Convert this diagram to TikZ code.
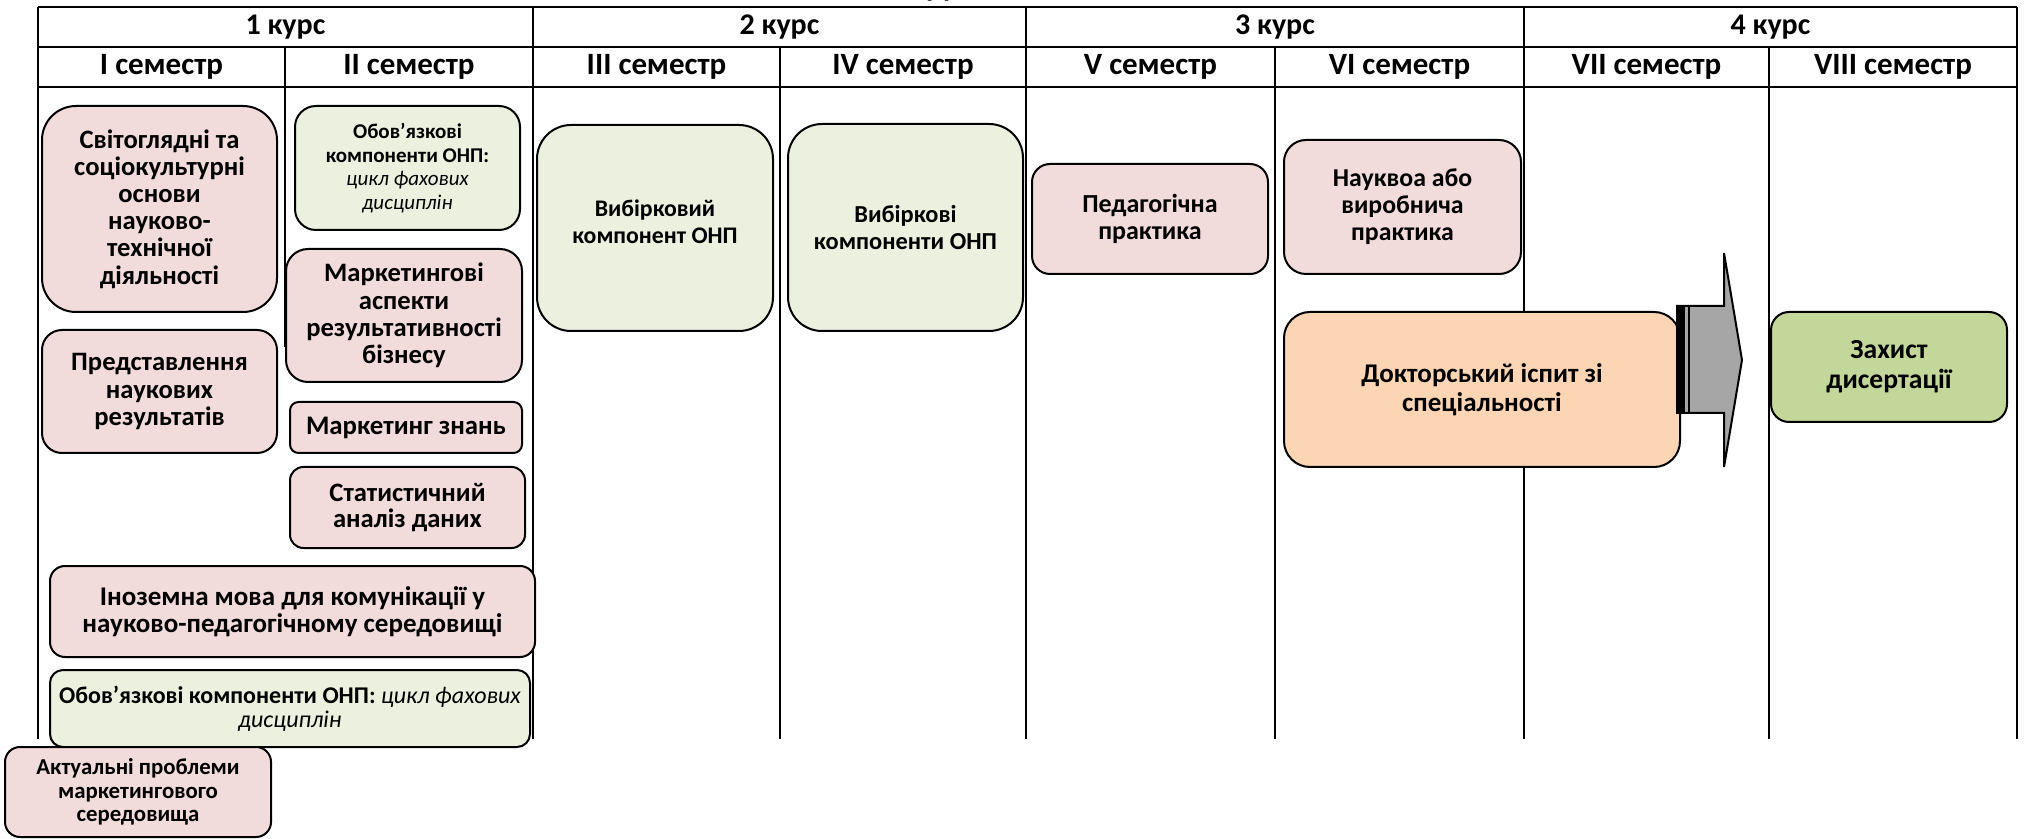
\documentclass[tikz,border=0pt]{standalone}
\usepackage{fontspec}
\setmainfont{Carlito}
\definecolor{pinkc}{HTML}{F2DCDB}
\definecolor{greenc}{HTML}{EBF1DE}
\definecolor{orangec}{HTML}{FCD5B4}
\definecolor{greenb}{HTML}{C4D79B}
\definecolor{arrowc}{HTML}{A6A6A6}
\begin{document}
\begin{tikzpicture}[x=0.5pt,y=-0.5pt,
  gridline/.style={line width=1.2pt},
  hdr/.style={font=\fontsize{15}{18}\selectfont\bfseries, inner sep=0pt},
  sem/.style={font=\fontsize{15.5}{18}\selectfont\bfseries, inner sep=0pt},
  box/.style={draw, line width=1pt, align=center, inner sep=0pt},
  pinkbox/.style={box, fill=pinkc},
  greenbox/.style={box, fill=greenc},
  fs/.style 2 args={font=\fontsize{#1}{#2}\selectfont\bfseries}
]
\useasboundingbox (0,0) rectangle (2024,839);
\begin{scope}
\clip (0,0) rectangle (2024,839);
\node[font=\fontsize{15}{18}\selectfont\bfseries, anchor=base, inner sep=0pt] (ttl) at (941,-3) {ру};
\end{scope}
% grid
\draw[gridline] (38,7) -- (2017,7);
\draw[gridline] (38,47) -- (2017,47);
\draw[gridline] (38,87) -- (2017,87);
\foreach \x in {38,533,1026,1524,2017} \draw[gridline] (\x,7) -- (\x,739);
\foreach \x in {780,1275,1769} \draw[gridline] (\x,47) -- (\x,739);
\draw[gridline] (285,47) -- (285,347);
% headers
\node[hdr] (k1) at (285.5,27) {1 курс};
\node[hdr] (k2) at (779.5,27) {2 курс};
\node[hdr] (k3) at (1275,27) {3 курс};
\node[hdr] (k4) at (1770.5,27) {4 курс};
\node[sem] (s1) at (161.5,67) {I семестр};
\node[sem] (s2) at (409,67) {II семестр};
\node[sem] (s3) at (656.5,67) {III семестр};
\node[sem] (s4) at (903,67) {IV семестр};
\node[sem] (s5) at (1150.5,67) {V семестр};
\node[sem] (s6) at (1399.5,67) {VI семестр};
\node[sem] (s7) at (1646.5,67) {VII семестр};
\node[sem] (s8) at (1893,67) {VIII семестр};
% boxes
\node[pinkbox, fs={13.3}{13.6}, minimum width=117.5pt, minimum height=103pt, rounded corners=17pt] (a) at (159.5,209)
  {Світоглядні та\\соціокультурні\\основи\\науково-\\технічної\\діяльності};
\node[pinkbox, fs={13.3}{13.6}, minimum width=117.5pt, minimum height=61.5pt, rounded corners=10pt] (b) at (159.5,391.5)
  {Представлення\\наукових\\результатів};
\node[greenbox, fs={10.5}{11.8}, minimum width=112.5pt, minimum height=62pt, rounded corners=10.5pt] (c) at (407.5,168)
  {Обов’язкові\\компоненти ОНП:\\\normalfont\itshape цикл фахових\\\normalfont\itshape дисциплін};
\node[pinkbox, fs={13.3}{13.7}, minimum width=118pt, minimum height=66.5pt, rounded corners=11pt] (d) at (404,315.5)
  {Маркетингові\\аспекти\\результативності\\бізнесу};
\node[pinkbox, fs={13.4}{14}, minimum width=116pt, minimum height=25.5pt, rounded corners=4.3pt] (e) at (406,427.5)
  {Маркетинг знань};
\node[pinkbox, fs={13.3}{13.4}, minimum width=117.5pt, minimum height=40.5pt, rounded corners=6.7pt] (f) at (407.5,507.5)
  {Статистичний\\аналіз даних};
\node[pinkbox, fs={13.5}{13.6}, minimum width=242.5pt, minimum height=45.5pt, rounded corners=7.5pt] (g) at (292.5,611.5)
  {Іноземна мова для комунікації у\\науково-педагогічному середовищі};
\node[greenbox, fs={12}{11.8}, minimum width=240pt, minimum height=38.5pt, rounded corners=6.5pt] (h) at (290,708.5)
  {Обов’язкові компоненти ОНП: {\normalfont\itshape цикл фахових}\\\normalfont\itshape дисциплін};
\node[pinkbox, fs={11.4}{11.7}, minimum width=133pt, minimum height=45pt, rounded corners=7.5pt] (i) at (138,792)
  {Актуальні проблеми\\маркетингового\\середовища};
\node[greenbox, fs={11.9}{13.5}, minimum width=118pt, minimum height=103pt, rounded corners=17pt] (j) at (655,228)
  {Вибірковий\\компонент ОНП\\[-7pt]\mbox{}};
\node[greenbox, fs={12.2}{13.2}, minimum width=117.5pt, minimum height=103.5pt, rounded corners=17pt] (k) at (905.5,227.5)
  {Вибіркові\\компоненти ОНП};
\node[pinkbox, fs={13}{13.6}, minimum width=118pt, minimum height=55pt, rounded corners=9pt] (l) at (1150,219)
  {Педагогічна\\практика};
\node[pinkbox, fs={12.9}{13.5}, minimum width=118.5pt, minimum height=67pt, rounded corners=11pt] (m) at (1402.5,207)
  {Науквоа або\\виробнича\\практика};
\node[box, fill=orangec, fs={13.5}{14.5}, minimum width=198pt, minimum height=77.5pt, rounded corners=13pt] (n) at (1482,389.5)
  {Докторський іспит зі\\спеціальності};
\node[box, fill=greenb, fs={13.8}{15}, minimum width=118pt, minimum height=55pt, rounded corners=9pt] (o) at (1889,367)
  {Захист\\дисертації};
% block arrow
\draw[line width=1pt, fill=arrowc, line join=miter]
  (1677,306) -- (1724,306) -- (1724,253) -- (1742,360) -- (1724,467) -- (1724,413) -- (1677,413) -- cycle;
\fill (1677,306) rectangle (1685,413);
\draw[line width=1pt] (1689,306) -- (1689,413);
\end{tikzpicture}
\end{document}
